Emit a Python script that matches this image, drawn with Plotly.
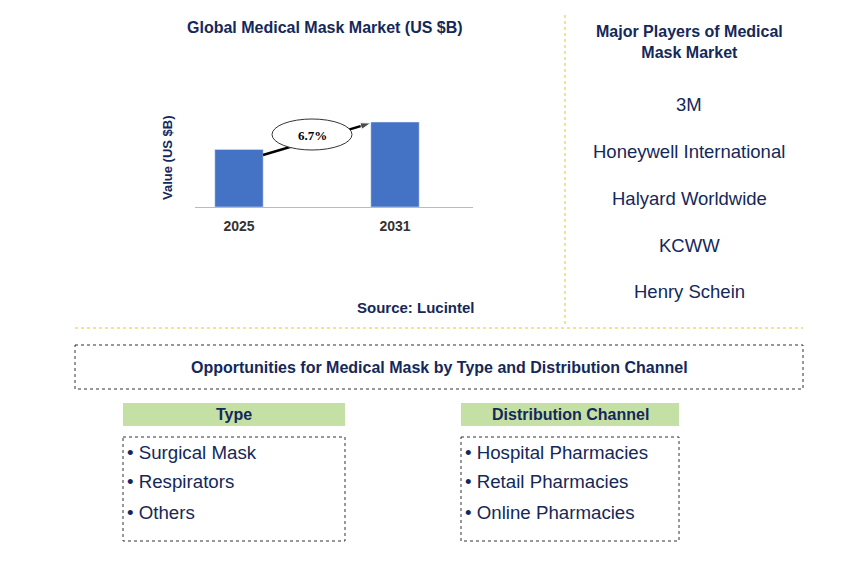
import plotly.graph_objects as go

W, H = 868, 562
years = ["2025", "2031"]
values = [4.0, 5.9]
cagr = "6.7%"
players = ["3M", "Honeywell International", "Halyard Worldwide", "KCWW", "Henry Schein"]
types = ["Surgical Mask", "Respirators", "Others"]
channels = ["Hospital Pharmacies", "Retail Pharmacies", "Online Pharmacies"]
navy = "#14285a"
gold = "#f0c419"
OFF = 8  # page body margin

def px(x):
    return (x - OFF) / W

def py(y):
    return 1 - (y - OFF) / H

fig = go.Figure(go.Bar(x=[0, 1], y=values, width=0.31, marker_color="#4472c4"))
# growth arrow
fig.add_trace(go.Scatter(x=[0.154, 0.846], y=[3.61, 5.83], mode="lines+markers",
                         line=dict(color="black", width=2.5),
                         marker=dict(symbol=["circle", "arrow"], size=[0, 11], angleref="previous", color="black")))

shapes = []
ann = []

def txt(x, y, s, size=14, bold=False, anchor="center", family="Liberation Sans, Arial"):
    ann.append(dict(x=px(x), y=py(y), xref="paper", yref="paper", text=f"<b>{s}</b>" if bold else s,
                    showarrow=False, xanchor=anchor, yanchor="middle",
                    font=dict(size=size, color=navy if family.startswith("Liberation Sans") else "black", family=family)))

def rect(x0, y0, x1, y1, dash="dot", fill=None, color="#333"):
    shapes.append(dict(type="rect", xref="paper", yref="paper", x0=px(x0), x1=px(x1), y0=py(y0), y1=py(y1),
                       line=dict(color=color, width=1, dash=dash) if color else dict(width=0),
                       fillcolor=fill, layer="below" if fill else "above"))

txt(325, 27, "Global Medical Mask Market (US $B)", 16, True)
txt(416, 308, "Source: Lucintel", 15, True)
ann.append(dict(x=px(168), y=py(158), xref="paper", yref="paper", text="<b>Value (US $B)</b>", textangle=-90,
                xanchor="center", yanchor="middle",
                showarrow=False, font=dict(size=13, color=navy, family="Liberation Sans, Arial")))
shapes.append(dict(type="circle", xref="paper", yref="paper", x0=px(272), x1=px(352), y0=py(119), y1=py(150),
                   fillcolor="white", line=dict(color="#333", width=1), layer="above"))
txt(312, 135, cagr, 13, True, family="Liberation Serif, Times New Roman")

# players
txt(689, 42, "Major Players of Medical<br>Mask Market", 16, True)
for i, p in enumerate(players):
    txt(689, 105 + i * 46.7, p, 18.5)

shapes.append(dict(type="line", xref="paper", yref="paper", x0=px(565), x1=px(565), y0=py(15), y1=py(326),
                   line=dict(color=gold, width=1, dash="dot")))
shapes.append(dict(type="line", xref="paper", yref="paper", x0=px(75), x1=px(803), y0=py(328), y1=py(328),
                   line=dict(color=gold, width=1, dash="dot")))

rect(75, 345, 803, 389)
txt(439, 367, "Opportunities for Medical Mask by Type and Distribution Channel", 16, True)

for x0, x1, head, items in [(123, 345, "Type", types), (461, 679, "Distribution Channel", channels)]:
    rect(x0, 403, x1, 426, fill="#c5e0a5", color=None)
    txt((x0 + x1) / 2, 414, head, 16, True)
    rect(x0, 437, x1, 541)
    for i, it in enumerate(items):
        txt(x0 + 2, 452 + i * 30, "• " + it, 18.7, anchor="left")

fig.update_layout(
    width=W, height=H, margin=dict(l=0, r=0, t=0, b=0),
    plot_bgcolor="white", paper_bgcolor="white", showlegend=False,
    xaxis=dict(domain=[px(195), px(473)], range=[-0.282, 1.5], tickvals=[0, 1], ticktext=[f"<b>{y}</b>" for y in years],
               showline=True, linecolor="#bbb", showgrid=False, zeroline=False, ticks="outside", ticklen=6,
               tickcolor="white", tickfont=dict(size=14, color="#333", family="Liberation Sans, Arial")),
    yaxis=dict(domain=[py(207), py(100)], range=[0, 7.43], showticklabels=False, showgrid=False, zeroline=False),
    shapes=shapes, annotations=ann,
)
fig.write_html("out.html")
